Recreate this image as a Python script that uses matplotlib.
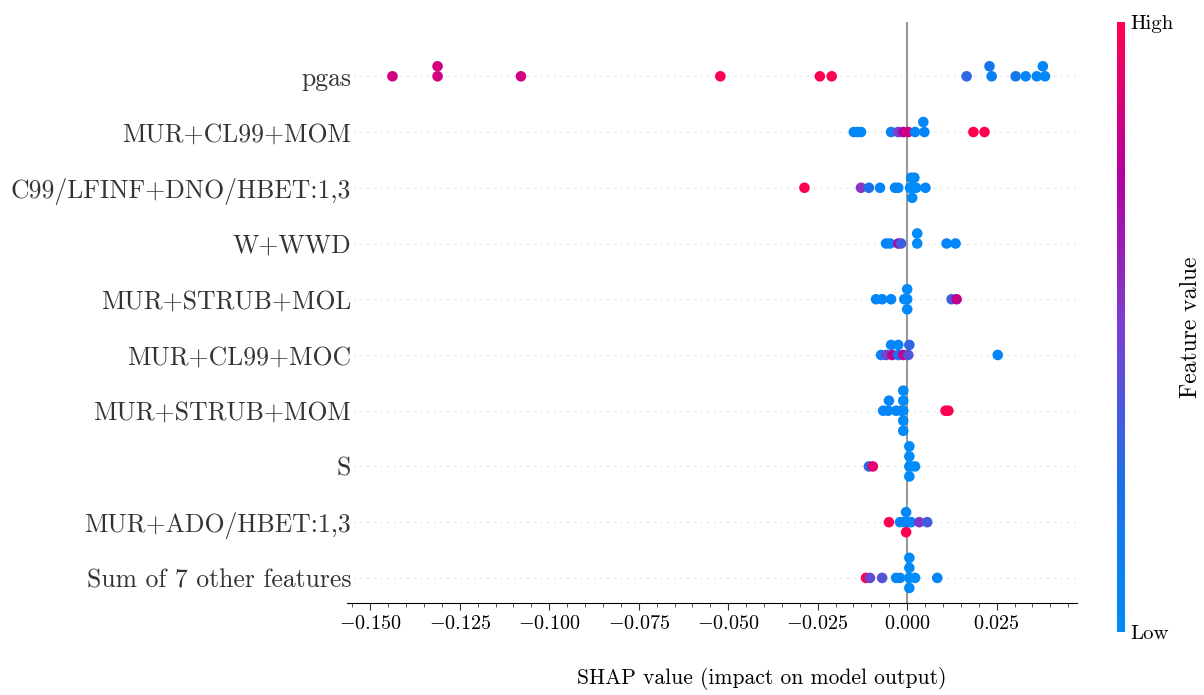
import numpy as np
import matplotlib
matplotlib.use('Agg')
import matplotlib.pyplot as plt
from matplotlib.colors import LinearSegmentedColormap
from matplotlib.ticker import MultipleLocator

# Features, top row first
features = [
    "pgas", "MUR+CL99+MOM", "C99/LFINF+DNO/HBET:1,3", "W+WWD",
    "MUR+STRUB+MOL", "MUR+CL99+MOC", "MUR+STRUB+MOM", "S",
    "MUR+ADO/HBET:1,3", "Sum of 7 other features",
]

# SHAP values per feature
shap_vals = [
    [-0.1438, -0.1312, -0.1312, -0.1079, -0.0522, -0.0244, -0.0211, 0.0166,
     0.0230, 0.0236, 0.0303, 0.0331, 0.0362, 0.0379, 0.0385],
    [-0.0149, -0.0138, -0.0129, -0.0045, -0.0025, -0.0011, 0.0003, 0.0022,
     0.0045, 0.0048, 0.0185, 0.0216],
    [-0.0287, -0.0129, -0.0107, -0.0076, -0.0034, -0.0025, 0.0008, 0.0017,
     0.0025, 0.0011, 0.0020, 0.0014, 0.0051],
    [-0.0059, -0.0048, -0.0025, -0.0017, 0.0028, 0.0028, 0.0110, 0.0135],
    [-0.0087, -0.0070, -0.0045, -0.0008, 0.0000, 0.0000, 0.0000, 0.0124, 0.0138],
    [-0.0073, -0.0059, -0.0042, -0.0025, -0.0011, 0.0003, -0.0045, -0.0025,
     0.0006, 0.0253],
    [-0.0067, -0.0053, -0.0051, -0.0031, -0.0017, -0.0011, -0.0011, -0.0011,
     -0.0011, -0.0011, 0.0107, 0.0115],
    [-0.0107, -0.0096, 0.0006, 0.0006, 0.0006, 0.0006, 0.0011, 0.0022],
    [-0.0051, -0.0020, -0.0008, 0.0006, 0.0011, 0.0034, 0.0056, -0.0003, -0.0003],
    [-0.0115, -0.0104, -0.0070, -0.0031, -0.0020, 0.0006, 0.0006, 0.0006,
     0.0006, 0.0022, 0.0084],
]

# stacking level of each dot (beeswarm offset, in dot heights)
offsets = [
    [0, 0, 1, 0, 0, 0, 0, 0, 1, 0, 0, 0, 0, 1, 0],
    [0, 0, 0, 0, 0, 0, 0, 0, 1, 0, 0, 0],
    [0, 0, 0, 0, 0, 0, 0, 0, 0, 1, 1, -1, 0],
    [0, 0, 0, 0, 0, 1, 0, 0],
    [0, 0, 0, 0, 0, 1, -1, 0, 0],
    [0, 0, 0, 0, 0, 0, 1, 1, 1, 0],
    [0, 0, 1, 0, 0, 2, 1, 0, -1, -2, 0, 0],
    [0, 0, 2, 1, 0, -1, 0, 0],
    [0, 0, 0, 0, 0, 0, 0, 1, -1],
    [0, 0, 0, 0, 0, 2, 1, 0, -1, 0, 0],
]

# normalised feature value (0 = low, 1 = high)
feat_vals = [
    [0.85, 0.85, 0.85, 0.85, 1.0, 1.0, 1.0, 0.3, 0.2, 0.1, 0.2, 0.05, 0.05, 0.05, 0.05],
    [0.05, 0.05, 0.05, 0.1, 0.5, 0.75, 0.85, 0.05, 0.05, 0.05, 1.0, 1.0],
    [1.0, 0.55, 0.25, 0.05, 0.05, 0.05, 0.0, 0.0, 0.0, 0.0, 0.0, 0.0, 0.05],
    [0.05, 0.05, 0.7, 0.35, 0.0, 0.0, 0.05, 0.05],
    [0.05, 0.05, 0.05, 0.05, 0.0, 0.0, 0.0, 0.35, 0.8],
    [0.05, 0.45, 0.8, 0.15, 0.8, 0.4, 0.05, 0.05, 0.3, 0.05],
    [0.05, 0.05, 0.05, 0.05, 0.05, 0.0, 0.0, 0.0, 0.0, 0.0, 1.0, 1.0],
    [0.3, 0.9, 0.0, 0.0, 0.0, 0.0, 0.0, 0.0],
    [1.0, 0.05, 0.05, 0.05, 0.05, 0.55, 0.35, 0.05, 1.0],
    [1.0, 0.45, 0.4, 0.05, 0.05, 0.0, 0.0, 0.0, 0.0, 0.0, 0.05],
]

plt.rcParams['font.family'] = 'serif'
plt.rcParams['font.serif'] = ['cmr10']
plt.rcParams['mathtext.fontset'] = 'cm'
plt.rcParams['axes.formatter.use_mathtext'] = True

# shap-like red/blue colormap
red_blue = LinearSegmentedColormap.from_list(
    'red_blue', ['#008bfb', '#1d6fe9', '#7a3fd0', '#b5009f', '#ff0051'])

fig = plt.figure(figsize=(12.04, 6.95), dpi=100)
ax = fig.add_axes([0.2882, 0.1324, 0.6065, 0.8356])

n = len(features)
row_gap = 0.18
for i, name in enumerate(features):
    y = n - 1 - i
    ax.axhline(y, color='#cccccc', lw=0.8, dashes=(1, 5), zorder=-1)
    ys = y + np.array(offsets[i]) * row_gap
    ax.scatter(shap_vals[i], ys, c=feat_vals[i], cmap=red_blue, vmin=0, vmax=1,
               s=58, linewidths=0, zorder=3)

ax.axvline(0, color='#999999', lw=1.5, zorder=-1)

ax.set_xlim(-0.1565, 0.0475)
ax.set_ylim(-0.45, n - 0.03)
ax.set_yticks(range(n))
ax.set_yticklabels(features[::-1], fontsize=18.5, color='#333333')
ax.tick_params(axis='y', length=0, pad=-3)

ax.xaxis.set_major_locator(MultipleLocator(0.025))
ax.xaxis.set_minor_locator(MultipleLocator(0.005))
ax.tick_params(axis='x', which='major', length=5, labelsize=14.5, color='#333333')
ax.tick_params(axis='x', which='minor', length=3, color='#333333')
ax.set_xlabel('SHAP value (impact on model output)', fontsize=15.5)
ax.xaxis.set_label_coords(0.568, -0.111)

for side in ['left', 'right', 'top']:
    ax.spines[side].set_visible(False)

# colour bar
cax = fig.add_axes([0.9277, 0.0906, 0.0067, 0.8774])
sm = plt.cm.ScalarMappable(cmap=red_blue, norm=plt.Normalize(0, 1))
cb = fig.colorbar(sm, cax=cax, ticks=[0, 1])
cb.set_ticklabels(['Low', 'High'])
cb.ax.tick_params(length=0, labelsize=15, pad=4)
cb.outline.set_visible(False)
cb.set_label('Feature value', fontsize=17, labelpad=4)

fig.savefig('out.png', dpi=100)
